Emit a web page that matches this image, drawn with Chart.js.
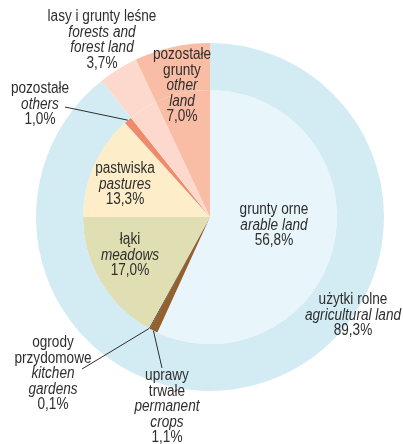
<!DOCTYPE html>
<html>
<head>
<meta charset="utf-8">
<script src="https://cdn.jsdelivr.net/npm/chart.js@4"></script>
<style>
  html, body { margin: 0; padding: 0; background: #fff; }
</style>
</head>
<body>
<canvas id="landChart" width="403" height="444"></canvas>
<script>
// Land use structure, % of total area
const outerLabels = ['użytki rolne', 'lasy i grunty leśne', 'pozostałe grunty'];
const outerValues = [89.3, 3.7, 7.0];

const innerLabels = ['grunty orne', 'uprawy trwałe', 'ogrody przydomowe', 'łąki', 'pastwiska', 'pozostałe', 'lasy i grunty leśne', 'pozostałe grunty'];
const innerValues = [56.8, 1.1, 0.1, 17.0, 13.3, 1.0, 3.7, 7.0];

const outerColors = ['#d3ecf3', '#fdd9cd', '#f9bda5'];
const innerColors = ['#e8f5fb', '#93602f', '#3a3a3a', '#dfdfb3', '#fdedc9', '#ef8a6c', '#fdd9cd', '#f9bda5'];

const fmt = v => v.toFixed(1).replace('.', ',') + '%';

// label boxes: dataset, index, polish lines, english lines, offset from centre, leader end
const labelDefs = [
  { ds: 1, i: 0, pl: ['grunty orne'], en: ['arable land'], dx: 64, dy: -7 },
  { ds: 0, i: 0, pl: ['użytki rolne'], en: ['agricultural land'], dx: 143, dy: 83 },
  { ds: 0, i: 1, pl: ['lasy i grunty leśne'], en: ['forests and', 'forest land'], dx: -108, dy: -200 },
  { ds: 0, i: 2, pl: ['pozostałe', 'grunty'], en: ['other', 'land'], dx: -28, dy: -162 },
  { ds: 1, i: 5, pl: ['pozostałe'], en: ['others'], dx: -170, dy: -128, lead: [-145, -110] },
  { ds: 1, i: 4, pl: ['pastwiska'], en: ['pastures'], dx: -85, dy: -48 },
  { ds: 1, i: 3, pl: ['łąki'], en: ['meadows'], dx: -80, dy: 23 },
  { ds: 1, i: 2, pl: ['ogrody', 'przydomowe'], en: ['kitchen', 'gardens'], dx: -157, dy: 126, lead: [-128, 152] },
  { ds: 1, i: 1, pl: ['uprawy', 'trwałe'], en: ['permanent', 'crops'], dx: -43, dy: 159, lead: [-48, 151] }
];

const fontFamily = '"Liberation Sans", Arial, sans-serif';
const squeeze = 0.85; // condensed look of the original lettering

function narrowText(ctx, text, x, y, italic) {
  ctx.font = (italic ? 'italic ' : '') + '16px ' + fontFamily;
  ctx.save();
  ctx.translate(x, y);
  ctx.scale(squeeze, 1);
  ctx.fillText(text, 0, 0);
  ctx.restore();
}

const labelPlugin = {
  id: 'pieLabels',
  afterDatasetsDraw(chart) {
    const ctx = chart.ctx;
    const inner = chart.getDatasetMeta(1).data;
    const cx = inner[0].x, cy = inner[0].y;
    ctx.save();
    ctx.fillStyle = '#2e2e2e';
    ctx.strokeStyle = '#2e2e2e';
    ctx.lineWidth = 1;
    ctx.textAlign = 'center';
    ctx.textBaseline = 'middle';
    labelDefs.forEach(d => {
      const values = d.ds === 0 ? outerValues : innerValues;
      if (d.lead) {
        const arc = chart.getDatasetMeta(d.ds).data[d.i];
        const mid = (arc.startAngle + arc.endAngle) / 2;
        ctx.beginPath();
        ctx.moveTo(cx + d.lead[0], cy + d.lead[1]);
        ctx.lineTo(cx + Math.cos(mid) * arc.outerRadius, cy + Math.sin(mid) * arc.outerRadius);
        ctx.stroke();
      }
      let y = cy + d.dy;
      const lh = 15.5;
      d.pl.forEach(t => { narrowText(ctx, t, cx + d.dx, y, false); y += lh; });
      d.en.forEach(t => { narrowText(ctx, t, cx + d.dx, y, true); y += lh; });
      narrowText(ctx, fmt(values[d.i]), cx + d.dx, y, false);
    });
    ctx.restore();
  }
};

const landChart = new Chart(document.getElementById('landChart').getContext('2d'), {
  type: 'pie',
  data: {
    labels: innerLabels,
    datasets: [{
      label: 'outer',
      data: outerValues,
      backgroundColor: outerColors,
      borderWidth: 0,
      weight: 47
    }, {
      label: 'inner',
      data: innerValues,
      backgroundColor: innerColors,
      borderWidth: 0,
      weight: 127
    }]
  },
  options: {
    responsive: false,
    animation: false,
    radius: 174,
    layout: { padding: { left: 17, right: 0, top: 0, bottom: 10 } },
    plugins: {
      legend: { display: false },
      tooltip: { enabled: false }
    }
  },
  plugins: [labelPlugin]
});
</script>
</body>
</html>
